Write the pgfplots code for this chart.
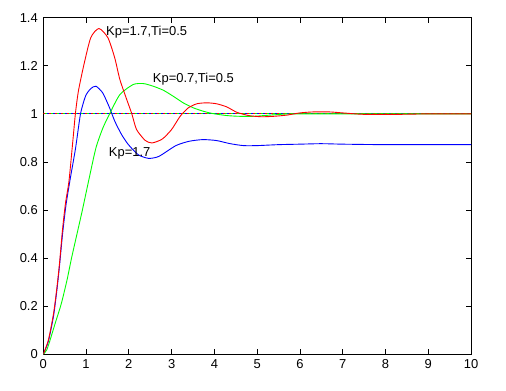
\documentclass[border=0pt]{standalone}
\usepackage{fontspec}
\setmainfont{Liberation Sans}
\usepackage{pgfplots}
\pgfplotsset{compat=1.18}
\begin{document}
\begin{tikzpicture}[x=1bp,y=1bp]
\begin{axis}[
  scale only axis,
  width=427.7bp, height=336.6bp,
  xmin=0, xmax=10, ymin=0, ymax=1.4,
  xtick={0,1,...,10},
  ytick={0,0.2,0.4,0.6,0.8,1,1.2,1.4},
  yticklabels={0,0.2,0.4,0.6,0.8,1,1.2,1.4},
  tick align=inside,
  major tick length=5bp,
  axis line style={line width=0.8bp},
  tick style={line width=0.8bp, black},
  ticklabel style={font=\fontsize{13}{13}\selectfont},
  /pgf/number format/assume math mode=true,
  xticklabel style={yshift=-2bp},
  yticklabel style={xshift=-2bp},
  clip=true,
]
% reference step lines (dotted, multicoloured)
\addplot[red, line width=1.1bp, dash pattern=on 2bp off 4bp] coordinates {(0,1) (10,1)};
\addplot[blue, line width=1.1bp, dash pattern=on 2bp off 4bp, dash phase=2bp] coordinates {(0,1) (10,1)};
\addplot[green, line width=1.1bp, dash pattern=on 2bp off 4bp, dash phase=4bp] coordinates {(0,1) (10,1)};
% Kp=1.7 (P control)
\addplot[blue, line width=0.9bp, smooth, tension=0.4] coordinates {
(0,0) (0.12,0.055) (0.24,0.16) (0.32,0.27) (0.38,0.37) (0.45,0.50) (0.53,0.62)
(0.62,0.72) (0.755,0.858) (0.87,1.0) (0.99,1.075) (1.11,1.105) (1.23,1.115)
(1.39,1.087) (1.55,1.025) (1.67,0.97) (1.83,0.914) (1.99,0.872) (2.22,0.83)
(2.46,0.815) (2.7,0.823) (3.1,0.868) (3.41,0.886) (3.73,0.893) (4.05,0.889)
(4.37,0.876) (4.68,0.868) (5.0,0.868) (5.5,0.872) (6.0,0.874) (6.5,0.876)
(7.0,0.874) (8,0.872) (10,0.872)};
% Kp=0.7, Ti=0.5
\addplot[green, line width=0.9bp, smooth, tension=0.4] coordinates {
(0,0) (0.08,0.018) (0.16,0.06) (0.28,0.13) (0.42,0.21) (0.556,0.31) (0.66,0.4)
(0.81,0.518) (0.914,0.6) (1.07,0.73) (1.23,0.858) (1.39,0.94) (1.55,1.0)
(1.79,1.08) (2.10,1.122) (2.34,1.126) (2.57,1.115) (2.81,1.098) (3.04,1.073)
(3.27,1.046) (3.51,1.025) (3.74,1.011) (3.97,1.001) (4.29,0.993) (4.56,0.99)
(4.92,0.99) (5.48,0.997) (6.0,1.0) (10,1.0)};
% Kp=1.7, Ti=0.5
\addplot[red, line width=0.9bp, smooth, tension=0.4] coordinates {
(0,0) (0.12,0.06) (0.24,0.17) (0.32,0.28) (0.38,0.38) (0.45,0.52) (0.52,0.63)
(0.60,0.72) (0.69,0.886) (0.75,1.0) (0.82,1.094) (0.95,1.205) (1.11,1.317)
(1.30,1.355) (1.51,1.317) (1.67,1.233) (1.79,1.143) (1.95,1.06) (2.07,1.0)
(2.18,0.935) (2.38,0.89) (2.54,0.879) (2.78,0.895) (3.0,0.935) (3.2,0.99)
(3.39,1.025) (3.59,1.042) (3.82,1.046) (4.05,1.042) (4.29,1.029) (4.52,1.007)
(4.8,0.993) (5.1,0.988) (5.4,0.99) (5.7,0.995) (6.0,1.004) (6.3,1.008) (6.7,1.008)
(7.0,1.004) (7.5,0.998) (8.3,0.998) (9,1.0) (10,1.0)};
\node[anchor=base west, inner sep=0, font=\fontsize{13}{13}\selectfont] at (axis cs:1.466,1.3275) {Kp=1.7,Ti=0.5};
\node[anchor=base west, inner sep=0, font=\fontsize{13}{13}\selectfont] at (axis cs:2.56,1.129) {Kp=0.7,Ti=0.5};
\node[anchor=base west, inner sep=0, font=\fontsize{13}{13}\selectfont] at (axis cs:1.53,0.823) {Kp=1.7};
\end{axis}
\path ([xshift=-43.3bp,yshift=-36.7bp]current axis.south west) rectangle ([xshift=35bp,yshift=17.7bp]current axis.north east);
\end{tikzpicture}
\end{document}
